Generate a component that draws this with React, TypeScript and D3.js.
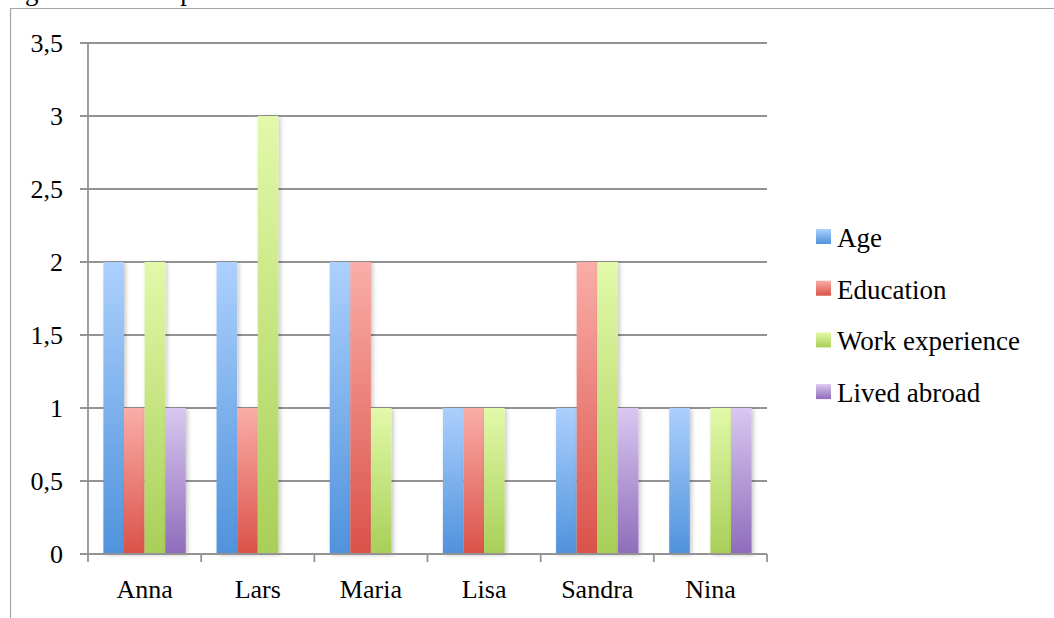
import React from "react";
import * as d3 from "d3";

const categories = ["Anna", "Lars", "Maria", "Lisa", "Sandra", "Nina"];
const seriesNames = ["Age", "Education", "Work experience", "Lived abroad"];
const age = [2, 2, 2, 1, 1, 1];
const education = [1, 1, 2, 1, 2, 0];
const workExperience = [2, 3, 1, 1, 2, 1];
const livedAbroad = [1, 0, 0, 0, 1, 1];
const yTicks = [0, 0.5, 1, 1.5, 2, 2.5, 3, 3.5];
const yTickLabels = ["0", "0,5", "1", "1,5", "2", "2,5", "3", "3,5"];

const seriesValues = [age, education, workExperience, livedAbroad];
const gradients = [
  { top: "#acd0fd", bottom: "#4f92dc" },
  { top: "#faada8", bottom: "#da5249" },
  { top: "#e2f9a9", bottom: "#a8cf58" },
  { top: "#d9c8f0", bottom: "#8f6cbb" },
];

const W = 1054;
const H = 618;
const left = 88;
const right = 767;
const top = 43;
const bottom = 554;
const FONT = "'Liberation Serif', 'Times New Roman', serif";

export default function App() {
  const x = d3.scaleBand<string>().domain(categories).range([left, right]);
  const bw = x.bandwidth();
  const gap = bw * 0.136;
  const inner = d3.scaleBand<string>().domain(seriesNames).range([gap, bw - gap]);
  const y = d3.scaleLinear().domain([0, 3.5]).range([bottom, top]);

  return (
    <svg
      width={W}
      height={H}
      style={{ position: "absolute", left: 0, top: 0, display: "block", background: "#fff" }}
    >
      <defs>
        {gradients.map((g, i) => (
          <linearGradient key={i} id={`grad${i}`} x1="0" y1="0" x2="0" y2="1">
            <stop offset="0%" stopColor={g.top} />
            <stop offset="100%" stopColor={g.bottom} />
          </linearGradient>
        ))}
        <filter id="shadow" x="-30%" y="-10%" width="160%" height="120%">
          <feDropShadow dx="2" dy="1" stdDeviation="2" floodColor="#000" floodOpacity="0.22" />
        </filter>
      </defs>

      {/* title, clipped at the top edge as in the reference */}
      <text x={-14} y={0} fontFamily={FONT} fontSize={27} fill="#000">
        Diagram 1 – Comparison of the candidates
      </text>

      {/* chart frame */}
      <line x1={10.5} y1={8} x2={10.5} y2={H} stroke="#a6a6a6" strokeWidth={1.2} />
      <line x1={10} y1={8.5} x2={W} y2={8.5} stroke="#a6a6a6" strokeWidth={1.2} />

      {/* gridlines */}
      {yTicks.map((t, i) => (
        <g key={t}>
          <line x1={80} x2={right} y1={y(t)} y2={y(t)} stroke="#939393" strokeWidth={1.8} />
          <text
            x={63}
            y={y(t)}
            dy="0.36em"
            textAnchor="end"
            fontFamily={FONT}
            fontSize={26}
            fill="#000"
          >
            {yTickLabels[i]}
          </text>
        </g>
      ))}

      {/* y axis */}
      <line x1={left} x2={left} y1={top} y2={bottom} stroke="#939393" strokeWidth={1.8} />

      {/* bars */}
      {categories.map((c, ci) => (
        <g key={c}>
          {seriesNames.map((s, si) => {
            const v = seriesValues[si][ci];
            if (!v) return null;
            const bx = (x(c) as number) + (inner(s) as number);
            return (
              <rect
                key={s}
                x={bx}
                y={y(v)}
                width={inner.bandwidth()}
                height={y(0) - y(v)}
                fill={`url(#grad${si})`}
                filter="url(#shadow)"
              />
            );
          })}
        </g>
      ))}

      {/* x axis */}
      <line x1={left} x2={right} y1={bottom} y2={bottom} stroke="#939393" strokeWidth={1.8} />
      {[...categories.map((c) => x(c) as number), right].map((px, i) => (
        <line key={i} x1={px} x2={px} y1={bottom} y2={bottom + 8} stroke="#939393" strokeWidth={1.8} />
      ))}
      {categories.map((c) => (
        <text
          key={c}
          x={(x(c) as number) + bw / 2}
          y={598}
          textAnchor="middle"
          fontFamily={FONT}
          fontSize={26}
          fill="#000"
        >
          {c}
        </text>
      ))}

      {/* legend */}
      {seriesNames.map((s, i) => {
        const cy = 237 + i * 51.7;
        return (
          <g key={s}>
            <rect x={816} y={cy - 8} width={15} height={15} fill={`url(#grad${i})`} />
            <text x={837} y={cy + 10} fontFamily={FONT} fontSize={27} fill="#000">
              {s}
            </text>
          </g>
        );
      })}
    </svg>
  );
}
